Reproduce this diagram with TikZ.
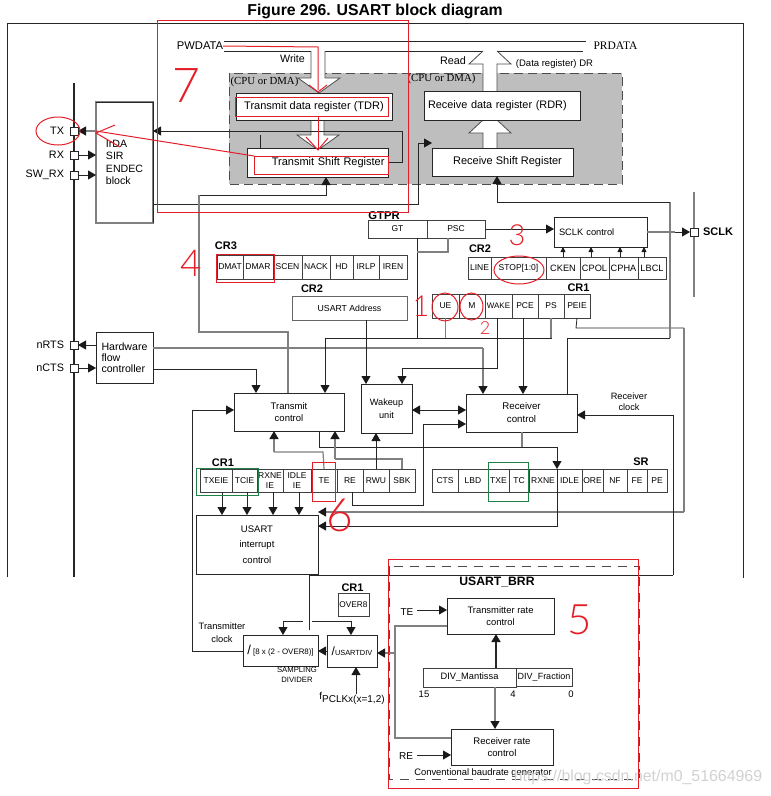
\documentclass[tikz,border=0pt]{standalone}
\usepackage{fontspec}
\setmainfont{Liberation Sans}
\newfontfamily\serifnote{Liberation Serif}
\newfontfamily\handfont{Lato Light}
\usetikzlibrary{positioning,arrows.meta,shapes.geometric}
\definecolor{areagray}{RGB}{190,190,190}
\definecolor{markred}{RGB}{228,30,40}
\definecolor{markgreen}{RGB}{30,130,70}
\newcommand{\fsz}[1]{\fontsize{#1}{#1}\selectfont}
\tikzset{
    line/.style={draw=black!85, line width=0.8pt},
    gline/.style={draw=black!50, line width=1.2pt},
    arr/.style={-{Triangle[length=8pt,width=9pt,color=black!90]}},
    smallarr/.style={-{Triangle[length=5pt,width=5pt,color=black!90]}},
    regbox/.style={draw=black!85, line width=0.8pt, fill=white, align=center},
    regcell/.style={draw=black!75, line width=0.8pt, fill=white, align=center, minimum height=23, font=\fsz{8.5}},
    pin/.style={draw=black!85, line width=0.8pt, fill=white, minimum width=8, minimum height=8},
    fatarrow/.style={draw=black!70, line width=0.8pt, fill=white},
    marked/.style={draw=markred, line width=1pt},
    greenbox/.style={draw=markgreen, line width=1pt},
    handnum/.style={text=markred}
}
\begin{document}
\begin{tikzpicture}[x=1pt, y=-1pt, every node/.style={inner sep=0pt, outer sep=0pt, font=\fsz{9}}]
    \useasboundingbox (0,0) rectangle (771,796);

    % title and outer frame
    \node[font=\bfseries\fsz{15.8}] (title) at (375,11) {Figure 296. USART block diagram};
    \draw[line] (7,577) -- (7,23) -- (743,23) -- (743,578);

    % shaded register area with the fat data paths
    \draw[fill=areagray, draw=black!70, line width=0.9pt, dash pattern=on 9pt off 5pt] (229,73) rectangle (622,184);
    \draw[line] (224,41) -- (586,41);
    \draw[line] (224,51) -- (311,51);
    \draw[line] (325,51) -- (483,51);
    \draw[line] (497,51) -- (583,51);
    \draw[fatarrow] (311,51) -- (311,78) -- (298,78) -- (319,93) -- (340,78) -- (325,78) -- (325,51);
    \draw[fatarrow] (311,120) -- (311,135) -- (297,135) -- (318,150) -- (339,135) -- (324,135) -- (324,120);
    \fill[white] (483,51) rectangle (497,91);
    \draw[fatarrow] (483,91) -- (483,64) -- (469,64) -- (483,51);
    \draw[fatarrow] (497,51) -- (511,64) -- (497,64) -- (497,91);
    \fill[white] (483,120) rectangle (497,148);
    \draw[fatarrow] (483,148) -- (483,133) -- (469,133) -- (483,120);
    \draw[fatarrow] (497,120) -- (511,133) -- (497,133) -- (497,148);

    \node[font=\fsz{11.2}] (pwdata) at (200,46) {PWDATA};
    \node[font=\serifnote\fsz{11.5}] (prdata) at (615.5,46) {PRDATA};
    \node[font=\fsz{10.7}] (write) at (292.5,59) {Write};
    \node[font=\fsz{10.8}] (read) at (453,61) {Read};
    \node[font=\fsz{9.5}] (drlabel) at (554.5,64) {(Data register) DR};
    \node[font=\serifnote\fsz{10.8}] (cpuleft) at (264.5,82) {(CPU or DMA)};
    \node[font=\serifnote\fsz{10.8}] (cpuright) at (441.5,79) {(CPU or DMA)};

    \node[regbox, minimum width=156, minimum height=27, font=\fsz{11}] (tdr) at (314,106.5) {Transmit data register (TDR)};
    \node[regbox, minimum width=141, minimum height=29, font=\fsz{11}, text width=134, align=right] (tsr) at (317.5,162.5) {Transmit Shift Register};
    \node[regbox, minimum width=156, minimum height=29, font=\fsz{10.9}, text width=148, align=left] (rdr) at (502,105.5) {Receive data register (RDR)};
    \node[regbox, minimum width=141, minimum height=28, font=\fsz{11}] (rsr) at (502.5,162) {\hspace{10pt}Receive Shift Register};

    % pins on the bus
    \draw[line, line width=1.5pt] (74,83) -- (74,577);
    \node[pin] (txpin) at (74,131) {};
    \node[pin] (rxpin) at (74,155) {};
    \node[pin] (swrxpin) at (74,175) {};
    \node[pin] (nrtspin) at (74,345) {};
    \node[pin] (nctspin) at (74,368) {};
    \node[font=\fsz{10.8}, left=6pt of txpin] (txlabel) {TX};
    \node[font=\fsz{10.8}, left=6pt of rxpin] (rxlabel) {RX};
    \node[font=\fsz{10.8}, left=6pt of swrxpin] (swrxlabel) {SW\_RX};
    \node[font=\fsz{10.8}, left=6pt of nrtspin] (nrtslabel) {nRTS};
    \node[font=\fsz{10.8}, left=6pt of nctspin] (nctslabel) {nCTS};

    % IrDA block, grey on two sides
    \node[minimum width=57, minimum height=121, align=left, font=\fontsize{10.6}{12.3}\selectfont] (irda) at (124.5,162.5) {IrDA\\SIR\\ENDEC\\block};
    \draw[gline] (irda.north west) rectangle (irda.south east);
    \draw[line] (irda.north west) -- (irda.north east) -- (irda.south east);

    \draw[gline, arr] (irda.west |- txpin) -- (txpin.east);
    \draw[line, arr] (rxpin.east) -- (irda.west |- rxpin);
    \draw[line, arr] (swrxpin.east) -- (irda.west |- swrxpin);

    \node[regbox, minimum width=57, minimum height=51, align=left, font=\fontsize{10.6}{11.2}\selectfont] (hwflow) at (124.5,357.5) {Hardware\\flow\\controller};
    \draw[line, arr] (hwflow.west |- nrtspin) -- (nrtspin.east);
    \draw[line, arr] (nctspin.east) -- (hwflow.west |- nctspin);

    % SCLK side
    \node[regbox, minimum width=93, minimum height=30, font=\fsz{9.3}, text width=83, align=left] (sclkctl) at (600.5,232) {SCLK control};
    \draw[gline] (694,192) -- (694,297);
    \node[pin] (sclkpin) at (694,232) {};
    \node[font=\bfseries\fsz{11}, right=5pt of sclkpin] (sclklabel) {SCLK};
    \draw[gline] (sclkctl.east) -- (675,232);
    \draw[line, arr] (675,232) -- (sclkpin.west);

    % GTPR
    \node[font=\bfseries\fsz{11.3}] (gtprlabel) at (384,215.5) {GTPR};
    \node[regcell, minimum width=59, minimum height=18] (gt) at (397.5,229) {GT};
    \node[regcell, minimum width=58, minimum height=18, right=0pt of gt] (psc) {PSC};
    \draw[line, arr] (psc.east) -- (sclkctl.west |- psc.east);

    % CR3
    \node[font=\bfseries\fsz{11}] (crthree) at (226,246) {CR3};
    \node[regcell, minimum width=26, minimum height=24] (dmat) at (230,267) {DMAT};
    \node[regcell, minimum width=30, minimum height=24, right=0pt of dmat] (dmar) {DMAR};
    \node[regcell, minimum width=29, minimum height=24, right=0pt of dmar] (scen) {SCEN};
    \node[regcell, minimum width=28, minimum height=24, right=0pt of scen] (nack) {NACK};
    \node[regcell, minimum width=23, minimum height=24, right=0pt of nack] (hd) {HD};
    \node[regcell, minimum width=26, minimum height=24, right=0pt of hd] (irlp) {IRLP};
    \node[regcell, minimum width=28, minimum height=24, right=0pt of irlp] (iren) {IREN};

    % CR2 with USART address
    \node[font=\bfseries\fsz{11}] (crtwoaddr) at (312,289) {CR2};
    \node[regbox, draw=black!60, minimum width=115, minimum height=24, font=\fsz{8.7}] (usartaddr) at (349.5,308) {USART Address};

    % CR2 clock bits
    \node[font=\bfseries\fsz{11}] (crtwoclk) at (480,249) {CR2};
    \node[regcell, minimum width=23, minimum height=22] (linebit) at (479.5,268) {LINE};
    \node[regcell, minimum width=55, minimum height=22, right=0pt of linebit] (stopbits) {STOP[1:0]};
    \node[regcell, minimum width=34, minimum height=22, font=\fsz{9.2}, right=0pt of stopbits] (cken) {CKEN};
    \node[regcell, minimum width=29, minimum height=22, font=\fsz{9.2}, right=0pt of cken] (cpol) {CPOL};
    \node[regcell, minimum width=29, minimum height=22, font=\fsz{9.2}, right=0pt of cpol] (cpha) {CPHA};
    \node[regcell, minimum width=28, minimum height=22, font=\fsz{9.2}, right=0pt of cpha] (lbcl) {LBCL};
    \draw[line, smallarr] (cken.north) -- (cken.north |- sclkctl.south);
    \draw[line, smallarr] (591,0 |- cpol.north) -- (591,0 |- sclkctl.south);
    \draw[line, smallarr] (620,0 |- cpha.north) -- (620,0 |- sclkctl.south);
    \draw[line, smallarr] (644,0 |- lbcl.north) -- (644,0 |- sclkctl.south);

    % CR1 upper row
    \node[font=\bfseries\fsz{11}] (crone) at (578.5,288) {CR1};
    \node[regcell, minimum width=27, minimum height=24] (ue) at (445.5,306) {UE};
    \node[regcell, minimum width=26, minimum height=24, right=0pt of ue] (mbit) {M};
    \node[regcell, minimum width=27, minimum height=24, font=\fsz{8}, right=0pt of mbit] (wake) {WAKE};
    \node[regcell, minimum width=26, minimum height=24, right=0pt of wake] (pce) {PCE};
    \node[regcell, minimum width=26, minimum height=24, right=0pt of pce] (ps) {PS};
    \node[regcell, minimum width=26, minimum height=24, right=0pt of ps] (peie) {PEIE};

    % control blocks
    \node[regbox, minimum width=110, minimum height=38, font=\fontsize{9.5}{12}\selectfont] (txctl) at (289,412) {Transmit\\control};
    \node[regbox, minimum width=51, minimum height=49, font=\fontsize{9.2}{13}\selectfont] (wakeup) at (386.5,408.5) {Wakeup\\unit};
    \node[regbox, minimum width=111, minimum height=38, font=\fontsize{9.7}{13}\selectfont] (rxctl) at (521.5,413) {Receiver\\control};
    \node[font=\fontsize{9.2}{11}\selectfont, align=center] (rxclock) at (629,402) {Receiver\\clock};

    % CR1 lower row
    \node[font=\bfseries\fsz{11}] (croneirq) at (223,463) {CR1};
    \node[regcell] [minimum width=32] (txeie) at (216,480.5) {TXEIE};
    \node[regcell, minimum width=25, right=0pt of txeie] (tcie) {TCIE};
    \node[regcell, minimum width=26, right=0pt of tcie, font=\fontsize{8.5}{10}\selectfont] (rxneie) {RXNE\\IE};
    \node[regcell, minimum width=28, right=0pt of rxneie, font=\fontsize{8.5}{10}\selectfont] (idleie) {IDLE\\IE};
    \node[regcell, minimum width=26, right=0pt of idleie] (tebit) {TE};
    \node[regcell, minimum width=26, right=0pt of tebit] (rebit) {RE};
    \node[regcell, minimum width=26, right=0pt of rebit] (rwu) {RWU};
    \node[regcell, minimum width=26, right=0pt of rwu] (sbk) {SBK};

    % SR
    \node[font=\bfseries\fsz{11}] (srlabel) at (641,462) {SR};
    \node[regcell] [minimum width=26] (cts) at (445,480.5) {CTS};
    \node[regcell, minimum width=30, right=0pt of cts] (lbd) {LBD};
    \node[regcell, minimum width=21, right=0pt of lbd] (txe) {TXE};
    \node[regcell, minimum width=20, right=0pt of txe] (tcbit) {TC};
    \node[regcell, minimum width=28, right=0pt of tcbit] (rxne) {RXNE};
    \node[regcell, minimum width=25, right=0pt of rxne] (idle) {IDLE};
    \node[regcell, minimum width=21, right=0pt of idle] (ore) {ORE};
    \node[regcell, minimum width=24, right=0pt of ore] (nf) {NF};
    \node[regcell, minimum width=20, right=0pt of nf] (fe) {FE};
    \node[regcell, minimum width=20, right=0pt of fe] (pe) {PE};

    \node[regbox, minimum width=122, minimum height=59, font=\fontsize{9.5}{15.5}\selectfont] (usartirq) at (257,544.5) {USART\\interrupt\\control};

    % dividers
    \node[font=\bfseries\fsz{11}] (croneover) at (352.5,588) {CR1};
    \node[regcell, minimum width=31, minimum height=23, font=\fsz{8.3}] (over) at (353.5,604.5) {OVER8};
    \node[regbox, minimum width=75, minimum height=31, font=\fsz{7.9}] (sampdiv) at (280.5,650.5) {{\fsz{13}/}\ [8 x (2 - OVER8)]};
    \node[regbox, minimum width=50, minimum height=32, font=\fsz{7.4}] (usartdiv) at (352,651) {{\fsz{12}/}USARTDIV};
    \node[font=\fontsize{7.7}{10}\selectfont, align=center] (samplabel) at (297,675) {SAMPLING\\DIVIDER};
    \node[font=\fontsize{9.3}{13}\selectfont, align=center] (txclock) at (222,633) {Transmitter\\clock};
    \node[font=\fsz{10}] (fpclk) at (352,698) {f\raisebox{-3pt}{PCLKx(x=1,2)}};

    % baud rate generator
    \draw[draw=black!70, line width=0.9pt, dash pattern=on 9pt off 7pt] (389,566) rectangle (639,779);
    \node[font=\bfseries\fsz{12.2}] (brrlabel) at (497,582) {USART\_BRR};
    \node[regbox, minimum width=107, minimum height=36, font=\fontsize{9.4}{12}\selectfont] (txrate) at (500.5,616) {Transmitter rate\\control};
    \node[regbox, minimum width=102, minimum height=36, font=\fontsize{9.6}{12}\selectfont] (rxrate) at (502,747) {Receiver rate\\control};
    \node[regcell, minimum width=93, minimum height=19, font=\fsz{9.3}] (mantissa) at (469.5,677.5) {DIV\_Mantissa};
    \node[regcell, minimum width=56, minimum height=18, font=\fsz{9}, right=0pt of mantissa, yshift=0.5pt] (fraction) {DIV\_Fraction};
    \node[font=\fsz{9.5}] (bitfifteen) at (424,694) {15};
    \node[font=\fsz{9.5}] (bitfour) at (513,694) {4};
    \node[font=\fsz{9.5}] (bitzero) at (571,694) {0};
    \node[font=\fsz{10}] (telabel) at (407,612) {TE};
    \node[font=\fsz{10}] (relabel) at (406,756) {RE};
    \node[font=\fsz{9.4}] (baudlabel) at (483,773) {Conventional baudrate generator};
    \node[text=black!18, font=\fsz{15.9}] (urlmark) at (638,777) {https://blog.csdn.net/m0\_51664969};

    % connectors, left half
    \draw[line, arr] (tsr.east) -| (402,131) -- (irda.east |- txpin);
    \draw[line] (260,135) -- (260,0 |- tsr.north);
    \draw[line, arr] (irda.east |- 0,204) -- (418,204) -- (418,143) -- (rsr.west |- 0,143);
    \draw[line, arr] (199,195) -- (326,195) -- (326,0 |- tsr.south);
    \draw[gline] (199,195) -- (199,332) -- (288,332) -- (288,0 |- txctl.north);
    \draw[gline] (hwflow.east |- 0,348) -- (483,348);
    \draw[gline, arr] (483,348) -- (483,0 |- rxctl.north);
    \draw[line] (hwflow.east |- 0,369) -- (256,369);
    \draw[line, arr] (256,369) -- (256,0 |- txctl.north);
    \draw[line] (366,0 |- usartaddr.south) -- (366,340);
    \draw[line, arr] (366,340) -- (366,0 |- wakeup.north);

    % GT, PSC and the UE, PS bits feed the transmit control
    \draw[line] (417,0 |- gt.south) -- (417,338);
    \draw[gline] (417,252) -- (448,252) -- (448,0 |- psc.south);
    \draw[line, arr] (ps.south) |- (325,338) -- (325,0 |- txctl.north);
    \draw[gline] (ue.south) -- (ue.south |- 0,338);
    \draw[gline] (ps.south) -- (ps.south |- 0,338);
    \draw[line, arr] (497,0 |- wake.south) -- (497,368) -- (402,368) -- (402,0 |- wakeup.north);
    \draw[line, arr] (523,0 |- pce.south) -- (523,0 |- rxctl.north);
    \draw[line] (peie.south) -- (576,328) -- (684,328);
    \draw[gline] (684,328) -- (684,512);
    \draw[gline, arr] (684,512) -- (usartirq.east |- 0,512);

    % receiver side
    \draw[line] (567,0 |- rxctl.north) -- (567,338) -- (670,338);
    \draw[gline] (670,338) -- (670,202);
    \draw[line, arr] (670,202) -- (497,202) -- (497,0 |- rsr.south);
    \draw[line, <->, >={Triangle[length=8pt,width=9pt,color=black!90]}] (wakeup.east |- 0,410) -- (rxctl.west |- 0,410);
    \draw[line, arr] (352,0 |- rebit.south) -- (352,505) -- (423,505) -- (423,424) -- (rxctl.west |- 0,424);
    \draw[line, arr] (673,575) -- (673,415) -- (rxctl.east |- 0,415);
    \draw[line] (309,630) -- (309,575) -- (673,575);
    \draw[gline] (522,0 |- rxctl.south) -- (522,447);
    \draw[line] (319,0 |- txctl.south) -- (319,447) -- (557,447);
    \draw[line, arr] (557,447) -- (557,0 |- rxne.north);
    \draw[line, arr] (557,0 |- rxne.north) -- (557,526) -- (usartirq.east |- 0,526);

    % lower row of CR1
    \draw[gline] (tebit.north) -- (323,452) -- (274,452);
    \draw[gline, arr] (274,452) -- (274,0 |- txctl.south);
    \draw[gline] (sbk.north) -- (402,459) -- (335,459);
    \draw[gline, arr] (335,459) -- (335,0 |- txctl.south);
    \draw[line, arr] (rwu.north) -- (rwu.north |- wakeup.south);
    \draw[line, arr] (222,0 |- txeie.south) -- (222,0 |- usartirq.north);
    \draw[line, arr] (247,0 |- tcie.south) -- (247,0 |- usartirq.north);
    \draw[line, arr] (273,0 |- rxneie.south) -- (273,0 |- usartirq.north);
    \draw[line, arr] (299,0 |- idleie.south) -- (299,0 |- usartirq.north);

    % clocks and dividers
    \draw[line, arr] (sampdiv.west |- 0,651) -- (192,651) -- (192,410) -- (txctl.west |- 0,410);
    \draw[line] (303,621) -- (283,621);
    \draw[line, arr] (283,621) -- (283,0 |- sampdiv.north);
    \draw[line] (312,621) -- (351,621);
    \draw[line, arr] (351,621) -- (351,0 |- usartdiv.north);
    \draw[line, arr] (usartdiv.west) -- (sampdiv.east |- usartdiv.west);
    \draw[line, arr] (356,694) -- (356,0 |- usartdiv.south);
    \draw[gline, arr] (395,653) -- (usartdiv.east |- 0,653);
    \draw[gline] (txrate.west |- 0,626) -- (395,626) -- (395,738) -- (rxrate.west |- 0,738);

    % baud rate registers
    \draw[line, arr] (417,610) -- (txrate.west |- 0,610);
    \draw[line, arr] (417,755) -- (rxrate.west |- 0,755);
    \draw[line, line width=1.5pt, arr] (496,0 |- mantissa.north) -- (496,0 |- txrate.south);
    \draw[gline, arr] (495,0 |- mantissa.south) -- (495,0 |- rxrate.north);

    % marks made on top of the figure
    \node[marked, minimum width=251, minimum height=192] (sevenbox) at (282.5,116) {};
    \node[marked, minimum width=250, minimum height=229] (fivebox) at (513,673.5) {};
    \node[marked, minimum width=153, minimum height=19] (tdrmark) at (311.5,107) {};
    \node[marked, minimum width=134, minimum height=18] (tsrmark) at (321,165) {};
    \node[marked, minimum width=58, minimum height=28] (dmamark) at (245,268) {};
    \node[marked, minimum width=23, minimum height=39] (temark) at (323.5,481.5) {};
    \node[greenbox, minimum width=62, minimum height=27] (irqmark) at (227,481.5) {};
    \node[greenbox, minimum width=40, minimum height=39] (flagmark) at (508,481.5) {};
    \node[marked, ellipse, minimum width=44, minimum height=28] (txring) at (58,131) {};
    \node[marked, ellipse, minimum width=50, minimum height=28] (stopring) at (519,270) {};
    \node[marked, ellipse, minimum width=26, minimum height=28] (uering) at (445,307) {};
    \node[marked, ellipse, minimum width=23, minimum height=27] (mring) at (471.5,306.5) {};
    \draw[marked] (pwdata.east) -- (318,47) -- (318,90);
    \draw[marked] (309,85) -- (318,92) -- (327,85);
    \draw[marked] (318,0 |- tdrmark.south) -- (318,150);
    \draw[marked] (306,137) -- (318,150) -- (328,138);
    \draw[marked] (tsrmark.north west) -- (irda.west |- txpin);
    \draw[marked] (115,125) -- (96,133) -- (120,147);
    \node[handnum, font=\handfont\fsz{29}] (numone) at (421,306) {1};
    \node[handnum, font=\handfont\fsz{18}] (numtwo) at (485,328) {2};
    \node[handnum, font=\handfont\fsz{29}] (numthree) at (517,235) {3};
    \node[handnum, font=\handfont\fsz{37}] (numfour) at (191,263) {4};
    \node[handnum, font=\handfont\fsz{42}] (numfive) at (580,620) {5};
    \node[handnum, font=\handfont\fsz{46}] (numsix) at (340,515) {6};
    \node[handnum, font=\handfont\fsz{48}] (numseven) at (186,86) {7};
\end{tikzpicture}
\end{document}
